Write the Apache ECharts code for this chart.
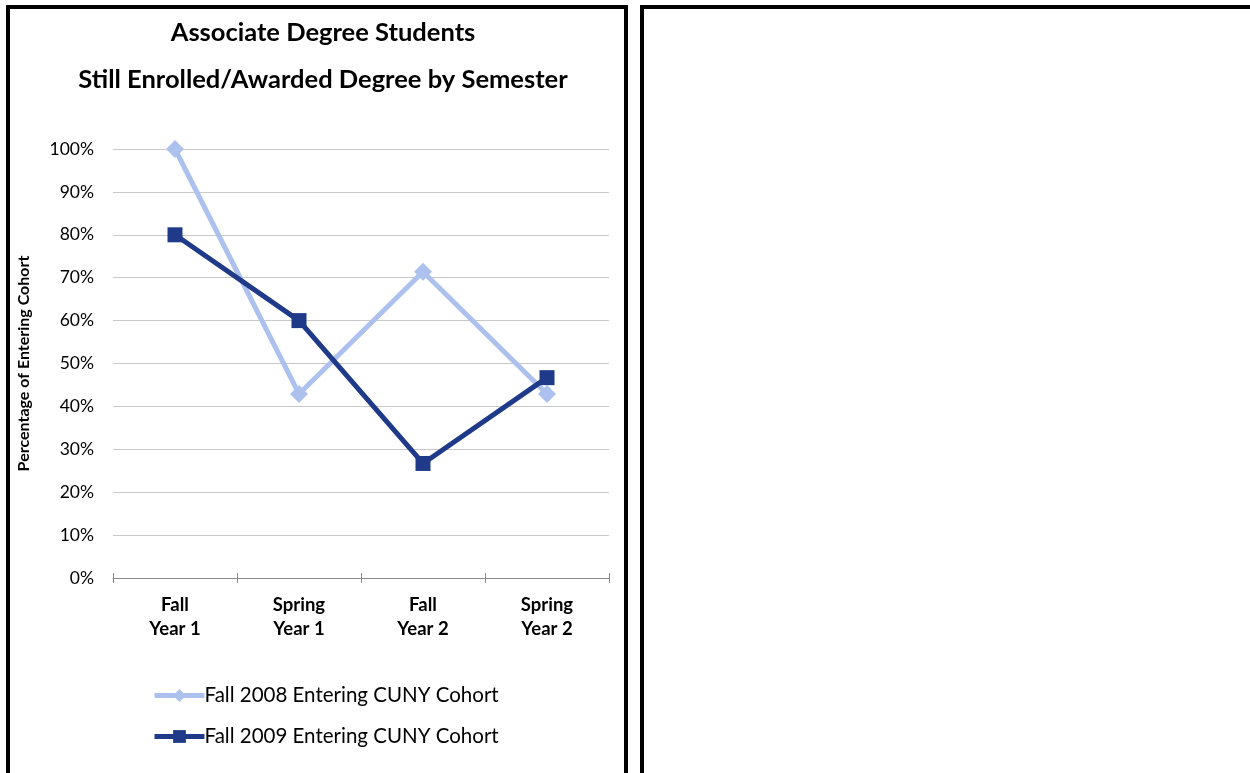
<!DOCTYPE html>
<html>
<head>
    <meta charset="utf-8">
    <script src="https://cdn.jsdelivr.net/npm/echarts@6/dist/echarts.min.js"></script>
</head>
<style type="text/css">
    body { margin: 0; background: #fff; }
</style>
<body>
<div style="width: 1250px;height: 773px;" id="chart"></div>
<script>

let categories = ['Fall\nYear 1', 'Spring\nYear 1', 'Fall\nYear 2', 'Spring\nYear 2'];
let cohort2008 = [100, 42.9, 71.4, 42.9];
let cohort2009 = [80, 60, 26.7, 46.7];
let seriesNames = ['Fall 2008 Entering CUNY Cohort', 'Fall 2009 Entering CUNY Cohort'];

let font = 'Lato, "Open Sans", sans-serif';

let chart = echarts.init(document.getElementById('chart'));

let option = {
    animation: false,
    textStyle: {fontFamily: font},
    title: {
        text: 'Associate Degree Students\nStill Enrolled/Awarded Degree by Semester',
        left: 318,
        top: 4,
        textAlign: 'center',
        textStyle: {fontSize: 25.5, fontWeight: 'bold', color: '#000', lineHeight: 47, fontFamily: font}
    },
    legend: {
        orient: 'vertical',
        left: 147,
        top: 680,
        itemGap: 20,
        itemWidth: 50,
        itemHeight: 16,
        lineStyle: {width: 5},
        textStyle: {fontSize: 20.5, color: '#000', padding: [0, 0, 0, -5], fontFamily: font},
        data: seriesNames
    },
    grid: {left: 113, right: 641, top: 149, bottom: 195},
    xAxis: [{
        type: 'category',
        data: categories,
        axisLine: {lineStyle: {color: '#8c8c8c', width: 1}},
        axisTick: {show: true, length: 5, lineStyle: {color: '#8c8c8c', width: 1}},
        axisLabel: {fontSize: 18.5, fontWeight: 'bold', color: '#000', lineHeight: 24, margin: 15, fontFamily: font}
    }, {
        type: 'category',
        data: categories,
        position: 'bottom',
        axisLine: {show: false},
        axisTick: {show: true, inside: true, length: 5, lineStyle: {color: '#8c8c8c', width: 1}},
        axisLabel: {show: false}
    }],
    yAxis: {
        type: 'value',
        min: 0,
        max: 100,
        interval: 10,
        name: 'Percentage of Entering Cohort',
        nameLocation: 'middle',
        nameRotate: 90,
        nameGap: 81,
        nameTextStyle: {fontSize: 16, fontWeight: 'bold', color: '#000', fontFamily: font},
        axisLine: {show: false},
        axisTick: {show: false},
        axisLabel: {formatter: '{value}%', fontSize: 17.5, color: '#000', margin: 19, fontFamily: font},
        splitLine: {lineStyle: {color: '#c8c8c8', width: 1}}
    },
    series: [{
        name: seriesNames[0],
        type: 'line',
        data: cohort2008,
        symbol: 'diamond',
        symbolSize: 18,
        lineStyle: {color: '#adc1ee', width: 5},
        itemStyle: {color: '#adc1ee'}
    }, {
        name: seriesNames[1],
        type: 'line',
        data: cohort2009,
        symbol: 'rect',
        symbolSize: 15,
        lineStyle: {color: '#1f3a89', width: 5},
        itemStyle: {color: '#1f3a89'},
        z: 3
    }],
    graphic: [{
        type: 'rect',
        shape: {x: 8, y: 7, width: 618, height: 800},
        style: {fill: 'none', stroke: '#000', lineWidth: 4}
    }, {
        type: 'rect',
        shape: {x: 642, y: 7, width: 700, height: 800},
        style: {fill: 'none', stroke: '#000', lineWidth: 4}
    }]
};

chart.setOption(option);

</script>
</body>
</html>
